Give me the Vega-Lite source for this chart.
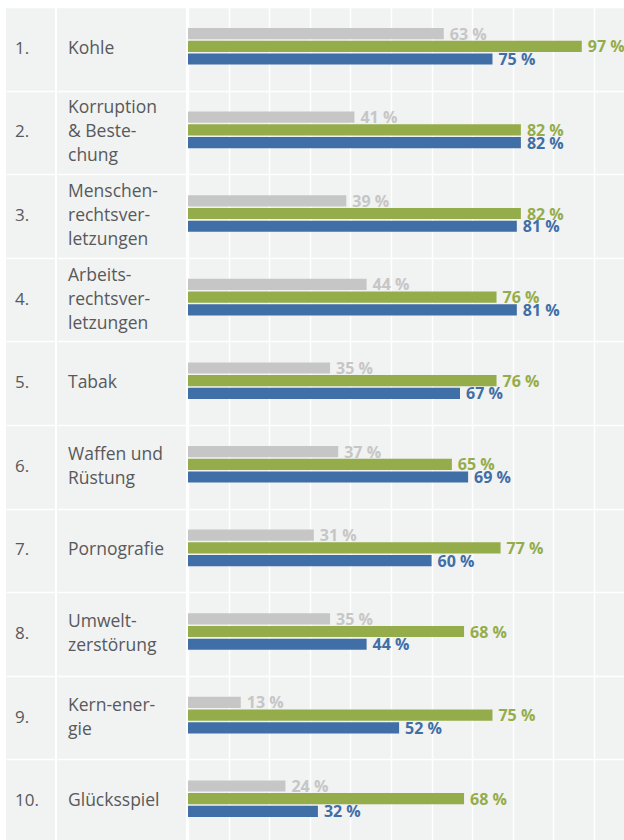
{
  "$schema": "https://vega.github.io/schema/vega-lite/v6.json",
  "background": "white",
  "padding": {"left": 6, "top": 7, "right": 0, "bottom": 0},
  "autosize": {"type": "pad"},
  "spacing": 2,
  "config": {
    "view": {"fill": "#f1f2f2", "stroke": null},
    "font": "Open Sans",
    "axis": {"minExtent": 0, "maxExtent": 0}
  },
  "datasets": {
    "rows": [
      {"rank": 1, "label": "Kohle"},
      {"rank": 2, "label": "Korruption|& Beste-|chung"},
      {"rank": 3, "label": "Menschen-|rechtsver-|letzungen"},
      {"rank": 4, "label": "Arbeits-|rechtsver-|letzungen"},
      {"rank": 5, "label": "Tabak"},
      {"rank": 6, "label": "Waffen und|Rüstung"},
      {"rank": 7, "label": "Pornografie"},
      {"rank": 8, "label": "Umwelt-|zerstörung"},
      {"rank": 9, "label": "Kern-ener-|gie"},
      {"rank": 10, "label": "Glücksspiel"}
    ],
    "bars": [
      {"rank": 1, "series": "a", "value": 63}, {"rank": 1, "series": "b", "value": 97}, {"rank": 1, "series": "c", "value": 75},
      {"rank": 2, "series": "a", "value": 41}, {"rank": 2, "series": "b", "value": 82}, {"rank": 2, "series": "c", "value": 82},
      {"rank": 3, "series": "a", "value": 39}, {"rank": 3, "series": "b", "value": 82}, {"rank": 3, "series": "c", "value": 81},
      {"rank": 4, "series": "a", "value": 44}, {"rank": 4, "series": "b", "value": 76}, {"rank": 4, "series": "c", "value": 81},
      {"rank": 5, "series": "a", "value": 35}, {"rank": 5, "series": "b", "value": 76}, {"rank": 5, "series": "c", "value": 67},
      {"rank": 6, "series": "a", "value": 37}, {"rank": 6, "series": "b", "value": 65}, {"rank": 6, "series": "c", "value": 69},
      {"rank": 7, "series": "a", "value": 31}, {"rank": 7, "series": "b", "value": 77}, {"rank": 7, "series": "c", "value": 60},
      {"rank": 8, "series": "a", "value": 35}, {"rank": 8, "series": "b", "value": 68}, {"rank": 8, "series": "c", "value": 44},
      {"rank": 9, "series": "a", "value": 13}, {"rank": 9, "series": "b", "value": 75}, {"rank": 9, "series": "c", "value": 52},
      {"rank": 10, "series": "a", "value": 24}, {"rank": 10, "series": "b", "value": 68}, {"rank": 10, "series": "c", "value": 32}
    ]
  },
  "resolve": {"scale": {"y": "independent", "x": "independent"}},
  "hconcat": [
    {
      "width": 49,
      "height": 833,
      "data": {"name": "rows"},
      "mark": {"type": "text", "align": "left", "baseline": "middle", "dx": 9, "fontSize": 17, "color": "#58595b", "text": {"expr": "datum.rank + '.'"}},
      "encoding": {
        "x": {"datum": 0, "type": "quantitative", "scale": {"domain": [0, 1]}, "axis": null},
        "y": {"field": "rank", "type": "ordinal", "scale": {"range": [0, 836], "padding": 0},
              "axis": {"grid": true, "gridColor": "white", "gridWidth": 1.5, "labels": false, "ticks": false, "domain": false, "title": null, "tickBand": "extent"}}
      }
    },
    {
      "width": 129,
      "height": 833,
      "data": {"name": "rows"},
      "mark": {"type": "text", "align": "left", "baseline": "middle", "dx": 11, "fontSize": 17.5, "lineHeight": 24, "lineBreak": "|", "color": "#58595b",
               "dy": {"expr": "-(length(split(datum.label, '|')) - 1) * 12"}},
      "encoding": {
        "x": {"datum": 0, "type": "quantitative", "scale": {"domain": [0, 1]}, "axis": null},
        "y": {"field": "rank", "type": "ordinal", "scale": {"range": [0, 836], "padding": 0},
              "axis": {"grid": true, "gridColor": "white", "gridWidth": 1.5, "labels": false, "ticks": false, "domain": false, "title": null, "tickBand": "extent"}},
        "text": {"field": "label"}
      }
    },
    {
      "width": 436,
      "height": 833,
      "data": {"name": "bars"},
      "encoding": {
        "y": {"field": "rank", "type": "ordinal", "scale": {"range": [0, 836], "paddingInner": 0.562, "paddingOuter": 0.281, "align": 0.447},
              "axis": {"grid": true, "gridColor": "white", "gridWidth": 1.5, "labels": false, "ticks": false, "domain": false, "title": null, "bandPosition": 0, "tickOffset": -21}},
        "yOffset": {"field": "series", "type": "nominal", "scale": {"domain": ["a", "b", "c"], "paddingInner": 0.12, "paddingOuter": 0}},
        "x": {"field": "value", "type": "quantitative", "scale": {"domain": [0, 107.4], "nice": false, "zero": true},
              "axis": {"grid": true, "values": [0, 10, 20, 30, 40, 50, 60, 70, 80, 90, 100], "gridColor": "white", "gridWidth": 1.5, "labels": false, "ticks": false, "domain": false, "title": null}},
        "color": {"field": "series", "type": "nominal", "scale": {"domain": ["a", "b", "c"], "range": ["#c6c6c6", "#94ad4a", "#406ea6"]}, "legend": null}
      },
      "layer": [
        {"mark": {"type": "bar"}},
        {"mark": {"type": "text", "align": "left", "baseline": "middle", "dx": 6, "dy": 1, "fontSize": 16, "fontWeight": "bold", "text": {"expr": "datum.value + ' %'"}}}
      ]
    }
  ]
}
